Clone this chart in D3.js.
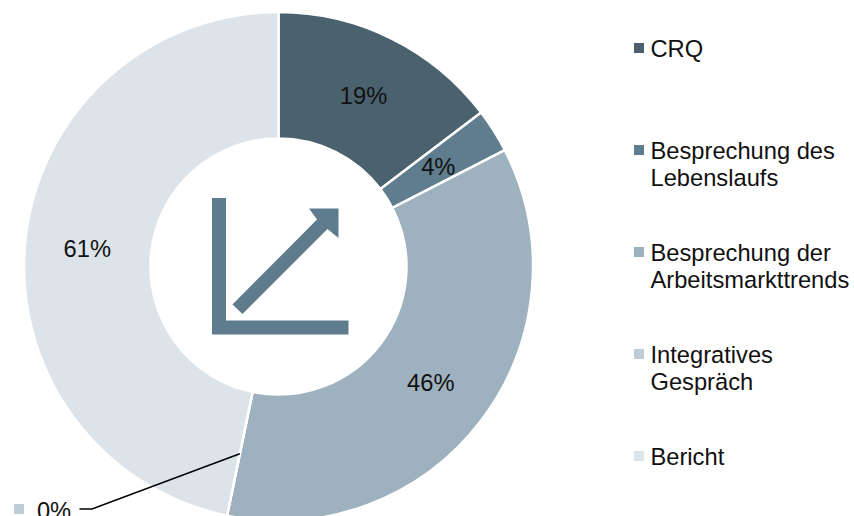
<!DOCTYPE html>
<html>
<head>
<meta charset="utf-8">
<script src="https://cdn.jsdelivr.net/npm/d3@7"></script>
<style>
	html, body { margin: 0; padding: 0; background: #fff; overflow: hidden; }
	text { font-family: "Liberation Sans", Arial, sans-serif; font-size: 23.7px; fill: #111; }
</style>
</head>
<body>
<div id="chart"></div>
<script>
// values, they round to the printed labels
var categories = ["CRQ", "Besprechung des Lebenslaufs", "Besprechung der Arbeitsmarkttrends", "Integratives Gespräch", "Bericht"];
var legendLines = [["CRQ"], ["Besprechung des", "Lebenslaufs"], ["Besprechung der", "Arbeitsmarkttrends"], ["Integratives", "Gespräch"], ["Bericht"]];
var values = [19, 3.6, 46.4, 0, 60.6];
var colors = ["#4a616e", "#5f7d8f", "#9eb1be", "#bdccd5", "#dde4e9"];

var width = 854, height = 516;
var cx = 278.5, cy = 266.5;
var outerR = 254.5, innerR = 128;

var svg = d3.select("#chart")
			.append("svg")
			.attr("width", width)
			.attr("height", height);

var colour = d3.scaleOrdinal().domain(categories).range(colors);

var pie = d3.pie().sort(null).value(function (d, i) { return values[i]; });
var arc = d3.arc().innerRadius(innerR).outerRadius(outerR);
var arcs = pie(categories);

var g = svg.append("g").attr("transform", "translate(" + cx + "," + cy + ")");

g.selectAll("path")
 .data(arcs)
 .enter()
 .append("path")
 .attr("d", arc)
 .attr("fill", function (d) { return colour(d.data); })
 .attr("stroke", "#fff")
 .attr("stroke-width", 2.5);

// labels, the zero slice gets a leader line instead
var pct = function (v) { return d3.format(".0f")(v) + "%"; };

g.selectAll("text.value")
 .data(arcs.filter(function (d) { return d.value > 0; }))
 .enter()
 .append("text")
 .attr("class", "value")
 .attr("text-anchor", "middle")
 .attr("dy", "0.36em")
 .attr("transform", function (d) {
	var p = arc.centroid(d);
	// the small slice label sits a bit lower and left
	if (d.index === 1) { p = [p[0] - 2, p[1] + 2]; }
	// and the biggest one a bit lower
	if (d.index === 4) { p = [p[0] - 1, p[1] + 1]; }
	return "translate(" + p + ")";
 })
 .text(function (d) { return pct(d.value); });

var zero = arcs[3];
var c = arc.centroid(zero);
var labelX = 92 - cx, labelY = 509 - cy;
g.append("path")
 .attr("d", d3.line()([c, [labelX, labelY], [labelX - 12.5, labelY]]))
 .attr("fill", "none")
 .attr("stroke", "#000")
 .attr("stroke-width", 1.5);

svg.append("rect")
   .attr("x", 14).attr("y", 504)
   .attr("width", 10).attr("height", 10)
   .attr("fill", colour(categories[3]));
svg.append("text")
   .attr("x", 54).attr("y", 510)
   .attr("dy", "0.36em")
   .attr("text-anchor", "middle")
   .text(pct(values[3]));

// icon in the hole
var icon = svg.append("g").attr("fill", "#5f7c8e");
icon.append("path")
	.attr("d", "M212,198H226V320.5H348.5V334.5H212Z");
icon.append("path")
	.attr("d", "M309,208.5H338.5V238L327.5,229L242.5,314L232.5,304.5L317,219.5Z");

// legend
var legendY = d3.scalePoint().domain(categories).range([48, 456]);
var legend = svg.selectAll("g.legend")
				.data(categories)
				.enter()
				.append("g")
				.attr("class", "legend")
				.attr("transform", function (d) { return "translate(634," + legendY(d) + ")"; });

legend.append("rect")
	  .attr("y", -5)
	  .attr("width", 10)
	  .attr("height", 10)
	  .attr("fill", function (d) { return colour(d); });

legend.each(function (d, i) {
	var t = d3.select(this);
	legendLines[i].forEach(function (line, j) {
		t.append("text")
		 .attr("x", 16.5)
		 .attr("y", j * 27)
		 .attr("dy", "0.36em")
		 .text(line);
	});
});
</script>
</body>
</html>
